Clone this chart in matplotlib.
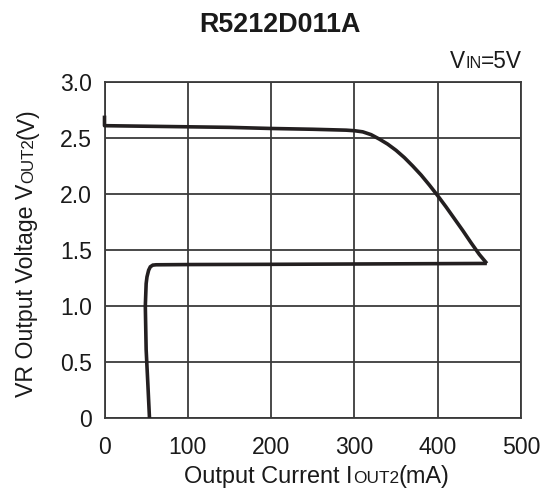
import matplotlib
matplotlib.use("Agg")
import matplotlib.pyplot as plt

# ---- data ----
x_upper = [0, 0, 50, 100, 150, 200, 250, 290, 300, 310, 320, 330, 340, 350, 360, 370, 380,
           390, 400, 410, 420, 430, 440, 450, 459]
y_upper = [2.70, 2.61, 2.605, 2.60, 2.595, 2.585, 2.578, 2.57, 2.565, 2.555, 2.53, 2.49, 2.445,
           2.39, 2.325, 2.25, 2.17, 2.08, 1.985, 1.885, 1.78, 1.675, 1.565, 1.46, 1.38]
x_lower = [459, 300, 200, 100, 62, 58, 55, 53, 51, 50, 49, 50, 52, 54]
y_lower = [1.38, 1.375, 1.372, 1.37, 1.368, 1.365, 1.35, 1.32, 1.26, 1.20, 1.00, 0.61, 0.31, 0.0]

x_ticks = [0, 100, 200, 300, 400, 500]
y_ticks = [0, 0.5, 1.0, 1.5, 2.0, 2.5, 3.0]
y_ticklabels = ["0", "0.5", "1.0", "1.5", "2.0", "2.5", "3.0"]

title = "R5212D011A"
FONT = "Liberation Sans"
W, H = 552, 488

plt.rcParams['font.family'] = [FONT, 'DejaVu Sans']

fig = plt.figure(figsize=(W / 100, H / 100), dpi=100)
ax = fig.add_axes([104.5 / W, (H - 418) / H, (521 - 104.5) / W, (418 - 82) / H])

line_col = "#231f20"
grid_col = "#3a3a3a"
ax.plot(x_upper, y_upper, color=line_col, lw=2.6, solid_joinstyle='round',
        solid_capstyle='butt', clip_on=False, zorder=3)
ax.plot(x_lower, y_lower, color=line_col, lw=2.6, solid_joinstyle='miter',
        solid_capstyle='butt', zorder=3)

ax.set_xlim(0, 500)
ax.set_ylim(0, 3.0)
ax.set_xticks(x_ticks)
ax.set_xticklabels([str(v) for v in x_ticks])
ax.set_yticks(y_ticks)
ax.set_yticklabels(y_ticklabels)
ax.grid(True, color=grid_col, lw=1.3)
ax.set_axisbelow(True)
for s in ax.spines.values():
    s.set_color(grid_col)
    s.set_linewidth(1.3)
ax.tick_params(axis='both', length=0, labelsize=16.6, colors="#1a1a1a")
ax.tick_params(axis='x', pad=13)
ax.tick_params(axis='y', pad=9)

renderer = fig.canvas.get_renderer()

def seq_text(x0, y0, pieces, rotation=0, weight='normal'):
    pos = 0.0
    for s, size in pieces:
        if rotation == 0:
            xy = (x0 + pos, y0)
        else:
            xy = (x0, y0 + pos)
        t = fig.text(xy[0] / W, xy[1] / H, s, fontsize=size, rotation=rotation,
                     rotation_mode='anchor', ha='left', va='baseline',
                     color="#1a1a1a", weight=weight)
        bb = t.get_window_extent(renderer)
        pos += bb.width if rotation == 0 else bb.height

# title
fig.text(280 / W, (H - 32.3) / H, title, fontsize=19.4, weight='bold',
         ha='center', va='baseline', color="#1a1a1a")

# x label
seq_text(184.3, H - 483.3, [("Output Current I", 16.9), ("OUT2", 12.4), ("(mA)", 16.9)])
# y label
seq_text(33.3, H - 396.7, [("VR Output Voltage V", 16.7), ("OUT2", 12.2), ("(V)", 16.7)], rotation=90)
# VIN=5V
seq_text(450, H - 68.3, [("V", 16.3), ("IN", 11.6), ("=5V", 16.3)])

fig.savefig("out.png", dpi=100)
